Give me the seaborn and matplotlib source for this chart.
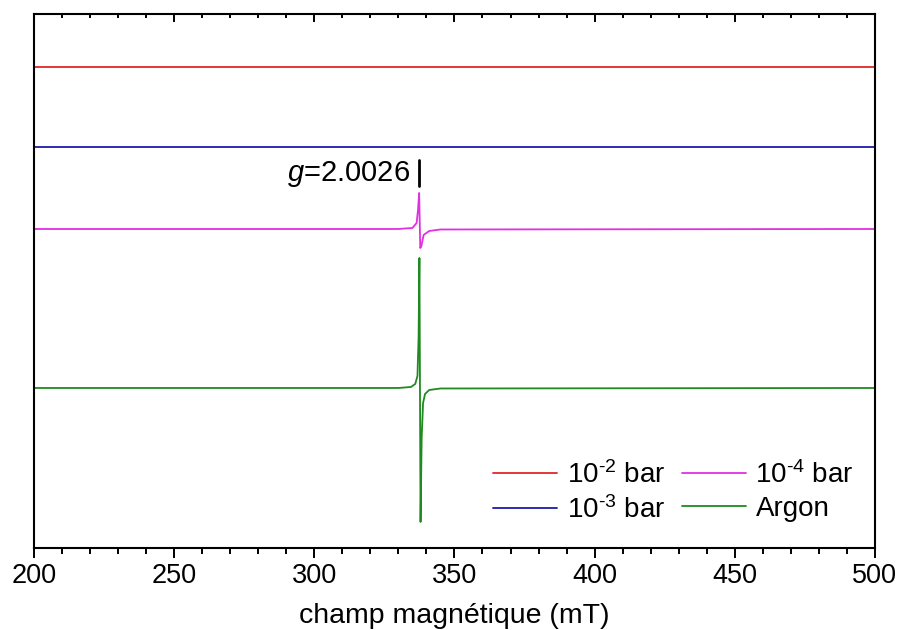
import pandas as pd
import matplotlib
matplotlib.use("Agg")
import matplotlib.pyplot as plt
import matplotlib.transforms as mtransforms
import seaborn as sns
from matplotlib.ticker import MultipleLocator

sns.set_style("ticks")
plt.rcParams['font.family'] = ['Liberation Sans', 'DejaVu Sans']
plt.rcParams['mathtext.fontset'] = 'custom'
plt.rcParams['mathtext.rm'] = 'Liberation Sans'
plt.rcParams['mathtext.it'] = 'Liberation Sans:italic'
for key in ['text.color', 'axes.labelcolor', 'xtick.color', 'ytick.color', 'axes.edgecolor']:
    plt.rcParams[key] = 'black'

# traces (field in mT, signal in arbitrary offset units)
field_flat = [200, 300, 400, 500]
signal_1e2 = [481, 481, 481, 481]
signal_1e3 = [401, 401, 401, 401]

field_1e4 = [200, 330, 335, 336.5, 337.0, 337.4, 337.8, 338.2, 339.0, 341, 345, 500]
signal_1e4 = [319, 319, 320, 325, 338, 355, 300, 302, 313, 317, 318.5, 319]

field_ar = [200, 330, 334.5, 336.0, 336.8, 337.2, 337.5, 337.9, 338.3, 338.8, 339.5, 341, 345, 500]
signal_ar = [160, 160, 161, 164, 172, 210, 290, 26, 110, 145, 154, 158, 159.5, 160]

labels = ['10$^{\\text{-2}}$ bar', '10$^{\\text{-3}}$ bar', '10$^{\\text{-4}}$ bar', 'Argon']
colors = ['#e02828', '#1c1ca8', '#e030e0', '#1f8a1f']

df = pd.concat([
    pd.DataFrame({'field': field_flat, 'signal': signal_1e2, 'sample': labels[0]}),
    pd.DataFrame({'field': field_flat, 'signal': signal_1e3, 'sample': labels[1]}),
    pd.DataFrame({'field': field_1e4, 'signal': signal_1e4, 'sample': labels[2]}),
    pd.DataFrame({'field': field_ar, 'signal': signal_ar, 'sample': labels[3]}),
])

fig = plt.figure(figsize=(9.01, 6.30), dpi=100)
ax = fig.add_axes([0.0377, 0.1302, 0.9334, 0.8476])

sns.lineplot(data=df, x='field', y='signal', hue='sample', palette=colors,
             hue_order=labels, sort=False, linewidth=1.3, ax=ax, legend=False)

ax.set_xlim(200, 500)
ax.set_ylim(0, 534)
ax.set_yticks([])
ax.set_ylabel('')
ax.set_xlabel('champ magnétique (mT)', fontsize=20.5, labelpad=10)

major_loc = MultipleLocator(50)
minor_loc = MultipleLocator(10)
ax.xaxis.set_major_locator(major_loc)
ax.xaxis.set_minor_locator(minor_loc)
ax.tick_params(axis='x', which='both', top=False, bottom=True, direction='out',
               labelsize=19.5, width=1.4)
ax.tick_params(axis='x', which='major', length=7, pad=4)
ax.tick_params(axis='x', which='minor', length=4)
for s in ax.spines.values():
    s.set_linewidth(1.5)
    s.set_visible(True)

# top ticks pointing inward (same positions as the bottom locators)
trans = mtransforms.blended_transform_factory(ax.transData, ax.transAxes)
top_major = [v for v in major_loc.tick_values(200, 500) if 200 <= v <= 500]
top_minor = [v for v in minor_loc.tick_values(200, 500) if 200 <= v <= 500 and v % 50 != 0]
ax.vlines(top_major, 1 - 8 / 534, 1, transform=trans, color='black', lw=1.4, clip_on=False)
ax.vlines(top_minor, 1 - 4.5 / 534, 1, transform=trans, color='black', lw=1.4, clip_on=False)

# annotation for the g value
ax.text(334.2, 374, '$g$=2.0026', fontsize=21, ha='right', va='center')
ax.plot([337.5, 337.5], [362, 388], color='black', linewidth=2)

handles = [plt.Line2D([], [], color=c, linewidth=1.3) for c in colors]
ax.legend(handles, labels, ncol=2, loc='lower right', bbox_to_anchor=(0.975, 0.045),
          frameon=False, fontsize=20, handlelength=2.3, handletextpad=0.35,
          columnspacing=0.6, labelspacing=0.25, borderpad=0, borderaxespad=0)

fig.savefig('out.png', dpi=100)
